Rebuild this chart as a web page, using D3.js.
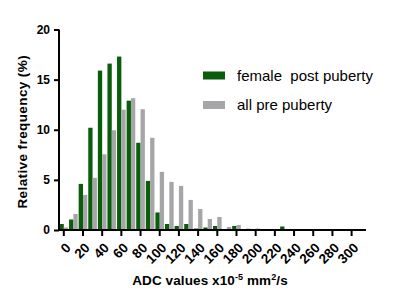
<!DOCTYPE html>
<html>
<head>
<meta charset="utf-8">
<script src="https://cdn.jsdelivr.net/npm/d3@7"></script>
<style>
  body { margin: 0; background: #fff; }
  svg { display: block; font-family: "Liberation Sans", Arial, sans-serif; }
</style>
</head>
<body>
<svg id="chart" width="400" height="303"></svg>
<script>
// ADC value bins (x10^-5 mm2/s)
const bins = d3.range(0, 320, 10);
const seriesNames = ['female  post puberty', 'all pre puberty'];
const femalePost = [0.6, 1.05, 4.6, 10.2, 15.9, 16.6, 17.3, 12.9, 8.7, 4.9, 1.75, 0.6, 0.4, 0.6, 0.15, 0.25,
  0.4, 0, 0.4, 0, 0, 0, 0, 0.35, 0, 0.08, 0.08, 0.08, 0, 0.08, 0.08, 0.08];
const allPre = [0.25, 1.6, 3.5, 5.2, 7.55, 9.95, 12.0, 13.15, 12.05, 9.2, 5.8, 4.8, 4.4, 3.0, 2.1, 1.1,
  1.3, 0.3, 0.5, 0.15, 0.15, 0, 0, 0, 0, 0, 0, 0, 0, 0, 0, 0];
const yTicks = [0, 5, 10, 15, 20];
const xTickLabels = d3.range(0, 320, 20);

const colors = ['#0a5d0a', '#a6a6a9'];

let svg = d3.select('#chart');

let margin = { left: 59, right: 34, top: 29.5, bottom: 73 };
let width = 400, height = 303;

let x = d3.scaleBand()
  .domain(bins)
  .range([margin.left, width - margin.right])
  .paddingInner(0.1)
  .paddingOuter(0.05);

let xSub = d3.scaleBand()
  .domain([0, 1])
  .range([0, x.bandwidth()]);

let y = d3.scaleLinear()
  .domain([0, 20])
  .range([height - margin.bottom, margin.top]);

let rows = bins.map((b, i) => ({ bin: b, vals: [femalePost[i], allPre[i]] }));

// bars
let groups = svg.selectAll('.bin')
  .data(rows)
  .enter()
  .append('g')
  .attr('class', 'bin')
  .attr('transform', d => `translate(${x(d.bin)},0)`);

groups.selectAll('rect')
  .data(d => d.vals)
  .enter()
  .append('rect')
  .attr('x', (d, i) => xSub(i))
  .attr('width', xSub.bandwidth())
  .attr('y', d => y(d))
  .attr('height', d => y(0) - y(d))
  .attr('fill', (d, i) => colors[i]);

// y axis
let yAxis = svg.append('g')
  .attr('transform', `translate(${margin.left},0)`)
  .call(d3.axisLeft(y).tickValues(yTicks).tickSize(5).tickPadding(4));

// x axis
let xAxis = svg.append('g')
  .attr('transform', `translate(0,${y(0)})`)
  .call(d3.axisBottom(x).tickValues(xTickLabels).tickSize(6).tickSizeOuter(0).tickPadding(2));

[yAxis, xAxis].forEach(ax => {
  ax.select('.domain').attr('stroke', '#000').attr('stroke-width', 2);
  ax.selectAll('.tick line').attr('stroke', '#000').attr('stroke-width', 2);
  ax.selectAll('.tick text')
    .attr('fill', '#000')
    .style('font-size', '12px')
    .style('font-weight', 'bold')
    .style('font-family', '"Liberation Sans", Arial, sans-serif');
});

yAxis.select('.domain').attr('d', `M0,${y(0) + 1}V${margin.top}`);
xAxis.select('.domain').attr('d', `M${margin.left - 1},0H${width - margin.right}`);

xAxis.selectAll('.tick text')
  .attr('text-anchor', 'end')
  .attr('dy', '0')
  .style('font-size', '13.5px')
  .attr('transform', 'translate(2,13) rotate(-45)');

// axis titles
svg.append('text')
  .attr('transform', `translate(27,${(margin.top + y(0)) / 2 + 2}) rotate(-90)`)
  .attr('text-anchor', 'middle')
  .style('font-size', '13.5px')
  .style('font-weight', 'bold')
  .style('letter-spacing', '0.4px')
  .text('Relative frequency (%)');

let xt = svg.append('text')
  .attr('x', 210)
  .attr('y', 285)
  .attr('text-anchor', 'middle')
  .style('font-size', '13.5px')
  .style('font-weight', 'bold')
  .style('letter-spacing', '0.1px');
xt.append('tspan').text('ADC values x10');
xt.append('tspan').attr('dy', -5).style('font-size', '9px').text('-5');
xt.append('tspan').attr('dy', 5).text(' mm');
xt.append('tspan').attr('dy', -5).style('font-size', '9px').text('2');
xt.append('tspan').attr('dy', 5).text('/s');

// legend
let legend = svg.selectAll('.legend')
  .data(seriesNames)
  .enter()
  .append('g')
  .attr('class', 'legend')
  .attr('transform', (d, i) => `translate(203,${71.5 + i * 29.5})`);

legend.append('rect')
  .attr('width', 22)
  .attr('height', 8)
  .attr('fill', (d, i) => colors[i]);

legend.append('text')
  .attr('x', 34)
  .attr('y', 9)
  .style('font-size', '15px')
  .style('white-space', 'pre')
  .text(d => d);
</script>
</body>
</html>
